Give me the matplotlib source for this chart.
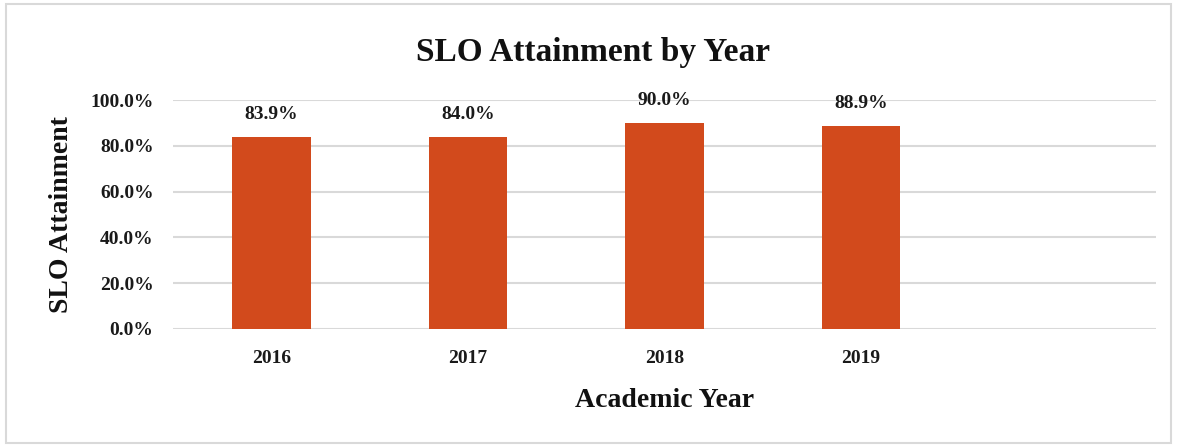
import matplotlib
matplotlib.use("Agg")
import matplotlib.pyplot as plt
from matplotlib.patches import Rectangle
from matplotlib.ticker import FuncFormatter

# Academic years, with an empty trailing slot on the category axis
years = ["2016", "2017", "2018", "2019", ""]
attainment = [0.839, 0.840, 0.900, 0.889]
y_ticks = [0.0, 0.2, 0.4, 0.6, 0.8, 1.0]

plt.rcParams['font.family'] = ['Liberation Serif', 'DejaVu Serif']
plt.rcParams['font.weight'] = 'bold'

fig = plt.figure(figsize=(11.77, 4.47), dpi=100)
fig.patches.append(Rectangle((0.005, 0.008), 0.99, 0.982, transform=fig.transFigure,
                             fill=False, edgecolor='#d9d9d9', linewidth=1.5))
ax = fig.add_axes([0.147, 0.264, 0.835, 0.512])

x = list(range(len(years)))
bars = ax.bar(x[:len(attainment)], attainment, width=0.4, color='#d24a1c', zorder=3)

for rect, v in zip(bars, attainment):
    ax.annotate(f"{v*100:.1f}%", (rect.get_x() + rect.get_width() / 2, v),
                xytext=(0, 10), textcoords='offset points', ha='center', va='bottom',
                fontsize=14, fontweight='bold', color='#1a1a1a')

ax.set_xlim(-0.5, len(years) - 0.5)
ax.set_ylim(0, 1.0)
ax.set_xticks(x)
ax.set_xticklabels(years)
ax.set_yticks(y_ticks)
ax.yaxis.set_major_formatter(FuncFormatter(lambda v, _: f"{v*100:.1f}%"))
ax.tick_params(axis='both', length=0, labelsize=14, colors='#1a1a1a')
ax.tick_params(axis='x', pad=15)
ax.tick_params(axis='y', pad=14)
for lbl in ax.get_xticklabels() + ax.get_yticklabels():
    lbl.set_fontweight('bold')

ax.grid(axis='y', color='#d9d9d9', linewidth=1.5, zorder=0)
for s in ax.spines.values():
    s.set_visible(False)

fig.text(0.504, 0.882, "SLO Attainment by Year", fontsize=24, fontweight='bold',
         ha='center', va='center', color='#111111')
ax.set_ylabel("SLO Attainment", fontsize=20, fontweight='bold', labelpad=12, color='#111111')
ax.set_xlabel("Academic Year", fontsize=20, fontweight='bold', labelpad=15, color='#111111')

fig.savefig("out.png", dpi=100)
